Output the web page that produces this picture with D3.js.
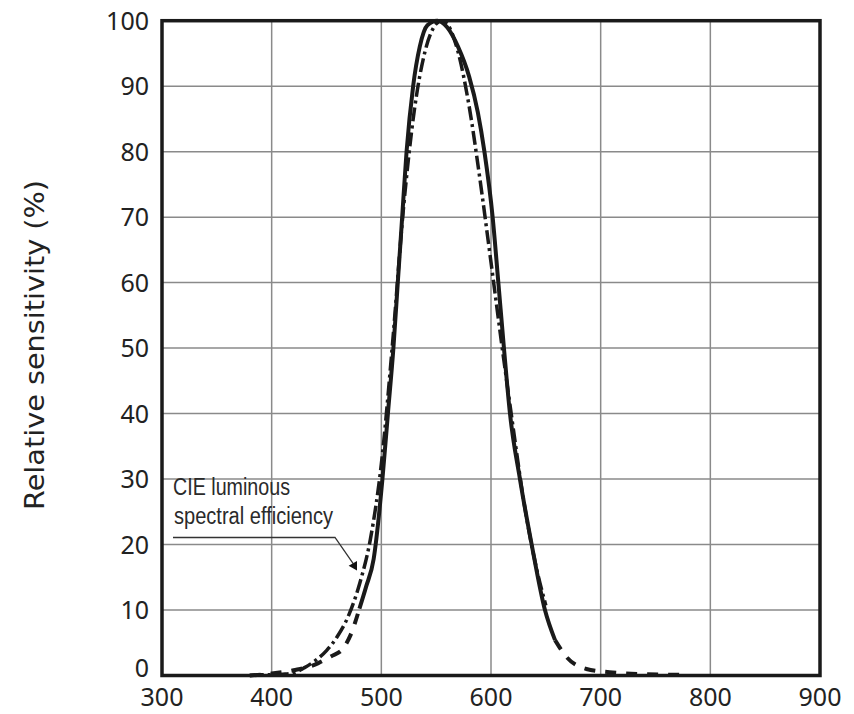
<!DOCTYPE html>
<html>
<head>
<meta charset="utf-8">
<script src="https://cdn.jsdelivr.net/npm/d3@7"></script>
<style>
  html, body { margin: 0; padding: 0; background: #fff; }
  svg { display: block; }
</style>
</head>
<body>
<svg id="chart" width="854" height="714"></svg>
<script>
'use strict';

// wavelength ticks (nm) and sensitivity ticks (%)
var xTicks = [300, 400, 500, 600, 700, 800, 900];
var yTicks = [0, 10, 20, 30, 40, 50, 60, 70, 80, 90, 100];

// sensor response
var sensorNm  = [380, 400, 420, 440, 447, 455, 465, 472, 480, 486, 493, 501, 506, 511, 515, 519, 523, 529, 535, 542, 551, 560, 570, 580, 588, 594, 601.5, 606.7, 611.8, 617.3, 626.4, 637.1, 649.2, 658.4, 669, 687, 708, 740, 778];
var sensorVal = [0, 0.3, 0.8, 1.7, 2.3, 3.0, 4.1, 6.2, 10.2, 13.5, 17.8, 30, 40, 50, 60, 70, 80, 90, 96, 99.3, 100, 99, 96, 91.5, 86, 80, 70, 60, 50, 40, 30, 20, 10, 5.4, 2.8, 1.0, 0.5, 0.2, 0.1];
// part of the sensor curve drawn solid, the rest dashed
var sensorSolid = [480, 658.4];

// CIE luminous spectral efficiency
var cieNm  = [380, 390, 400, 410, 420, 430, 440, 450, 460, 470, 480, 490, 500, 510, 520, 530, 540, 550, 555, 560, 570, 580, 590, 600, 610, 620, 630, 640, 650];
var cieVal = [0.0, 0.1, 0.1, 0.2, 0.4, 1.2, 2.3, 3.8, 6.0, 9.1, 13.9, 20.8, 32.3, 50.3, 71.0, 86.2, 95.4, 99.5, 100, 99.5, 95.2, 87.0, 75.7, 63.1, 50.3, 38.1, 26.5, 17.5, 10.7];

var svg = d3.select('#chart');
var plotLeft = 162, plotRight = 820, plotTop = 20.7, plotBottom = 675.5;

var x = d3.scaleLinear().domain([300, 900]).range([plotLeft, plotRight]);
var y = d3.scaleLinear().domain([0, 100]).range([plotBottom, plotTop]);

var ink = '#1a1a1a';
var labelFont = "'Noto Sans', 'Open Sans', sans-serif";

// grid
svg.append('g')
  .selectAll('line')
  .data(xTicks.slice(1, -1))
  .enter().append('line')
  .attr('x1', function (d) { return x(d); })
  .attr('x2', function (d) { return x(d); })
  .attr('y1', plotTop).attr('y2', plotBottom)
  .attr('stroke', '#8a8a8a').attr('stroke-width', 1.5);

svg.append('g')
  .selectAll('line')
  .data(yTicks.slice(1, -1))
  .enter().append('line')
  .attr('y1', function (d) { return y(d); })
  .attr('y2', function (d) { return y(d); })
  .attr('x1', plotLeft).attr('x2', plotRight)
  .attr('stroke', '#8a8a8a').attr('stroke-width', 1.5);

// curves
var toPts = function (xs, vs) {
  return xs.map(function (d, i) { return [d, vs[i]]; });
};
var line = d3.line()
  .x(function (d) { return x(d[0]); })
  .y(function (d) { return y(d[1]); })
  .curve(d3.curveMonotoneX);

var sensor = toPts(sensorNm, sensorVal);
var lo = sensorSolid[0], hi = sensorSolid[1];
var sensorLeft = sensor.filter(function (d) { return d[0] <= lo; });
var sensorMid = sensor.filter(function (d) { return d[0] >= lo && d[0] <= hi; });
var sensorRight = sensor.filter(function (d) { return d[0] >= hi; });

svg.append('path')
  .attr('d', line(toPts(cieNm, cieVal)))
  .attr('fill', 'none').attr('stroke', ink)
  .attr('stroke-width', 3.5)
  .attr('stroke-dasharray', '14,4,3,4');

svg.append('path')
  .attr('d', line(sensorMid))
  .attr('fill', 'none').attr('stroke', ink)
  .attr('stroke-width', 4);

[sensorLeft, sensorRight].forEach(function (part) {
  svg.append('path')
    .attr('d', line(part))
    .attr('fill', 'none').attr('stroke', ink)
    .attr('stroke-width', 4)
    .attr('stroke-dasharray', '11,10');
});

// frame
svg.append('rect')
  .attr('x', plotLeft).attr('y', plotTop)
  .attr('width', plotRight - plotLeft).attr('height', plotBottom - plotTop)
  .attr('fill', 'none').attr('stroke', ink).attr('stroke-width', 3.5);

// tick labels
svg.append('g')
  .selectAll('text')
  .data(yTicks)
  .enter().append('text')
  .attr('x', 149)
  .attr('y', function (d) { return d === 0 ? y(d) - 8 : y(d); })
  .attr('dy', '0.36em')
  .attr('text-anchor', 'end')
  .attr('font-family', labelFont).attr('font-size', 25)
  .attr('fill', '#222')
  .text(function (d) { return d; });

svg.append('g')
  .selectAll('text')
  .data(xTicks)
  .enter().append('text')
  .attr('x', function (d) { return x(d); })
  .attr('y', 697)
  .attr('dy', '0.36em')
  .attr('text-anchor', 'middle')
  .attr('font-family', labelFont).attr('font-size', 25)
  .attr('fill', '#222')
  .text(function (d) { return d; });

// axis title
svg.append('text')
  .attr('transform', 'translate(35,345) rotate(-90)')
  .attr('dy', '0.36em')
  .attr('text-anchor', 'middle')
  .attr('font-family', "'DejaVu Sans', sans-serif").attr('font-size', 26)
  .attr('textLength', 330).attr('lengthAdjust', 'spacingAndGlyphs')
  .attr('fill', '#222')
  .text('Relative sensitivity (%)');

// annotation for the CIE curve (narrow face, squeezed to fit)
var note = svg.append('g').attr('fill', '#2a2a2a')
  .attr('font-family', "'Liberation Sans', Arial, sans-serif").attr('font-size', 23);
note.append('text').attr('x', 173).attr('y', 495)
  .attr('textLength', 117).attr('lengthAdjust', 'spacingAndGlyphs')
  .text('CIE luminous');
note.append('text').attr('x', 174).attr('y', 524)
  .attr('textLength', 159).attr('lengthAdjust', 'spacingAndGlyphs')
  .text('spectral efficiency');

var tip = [x(478), y(16)];
svg.append('path')
  .attr('d', 'M173,537.5 L335,537.5 L' + (tip[0] - 4) + ',' + (tip[1] - 7))
  .attr('fill', 'none').attr('stroke', '#333').attr('stroke-width', 1.3);
svg.append('path')
  .attr('d', d3.symbol().type(d3.symbolTriangle).size(40)())
  .attr('transform', 'translate(' + (tip[0] - 3) + ',' + (tip[1] - 5) + ') rotate(150)')
  .attr('fill', '#111');
</script>
</body>
</html>
